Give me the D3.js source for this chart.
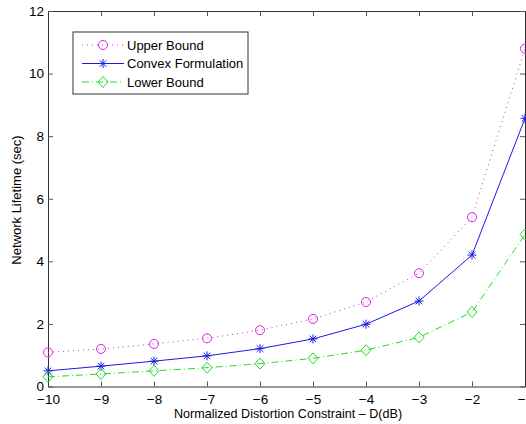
<!DOCTYPE html>
<html>
<head>
<meta charset="utf-8">
<script src="https://cdn.jsdelivr.net/npm/d3@7"></script>
<style>
  body { margin: 0; background: #fff; }
  text { font-family: "Liberation Sans", Arial, sans-serif; fill: #000; }
</style>
</head>
<body>
<div id="chart"></div>
<script>
var svgWidth = 526;
var svgHeight = 424;

var margin = { top: 11, right: 1, bottom: 37.5, left: 48 };
var width = svgWidth - margin.left - margin.right;
var height = svgHeight - margin.top - margin.bottom;

// data
var distortion = [-10, -9, -8, -7, -6, -5, -4, -3, -2, -1];
var upperBound = [1.09, 1.2, 1.36, 1.54, 1.8, 2.16, 2.7, 3.62, 5.41, 10.8];
var convexForm = [0.5, 0.65, 0.81, 0.98, 1.21, 1.52, 1.99, 2.73, 4.2, 8.57];
var lowerBound = [0.31, 0.4, 0.5, 0.6, 0.73, 0.9, 1.16, 1.57, 2.38, 4.86];
var xTicks = [-10, -9, -8, -7, -6, -5, -4, -3, -2, -1];
var yTicks = [0, 2, 4, 6, 8, 10, 12];
var seriesNames = ["Upper Bound", "Convex Formulation", "Lower Bound"];

var series = [
  { name: seriesNames[0], values: upperBound, color: "#e020e0", dash: "1,4", marker: "circle" },
  { name: seriesNames[1], values: convexForm, color: "#1a1ae6", dash: null, marker: "star" },
  { name: seriesNames[2], values: lowerBound, color: "#22dd22", dash: "7,3,1,3", marker: "diamond" }
];

var svg = d3.select("#chart")
  .append("svg")
  .attr("width", svgWidth)
  .attr("height", svgHeight);

var chartGroup = svg.append("g")
  .attr("transform", `translate(${margin.left}, ${margin.top})`);

var x = d3.scaleLinear().domain([-10, -1]).range([0, width]);
var y = d3.scaleLinear().domain([0, 12]).range([height, 0]);

// axes with inward ticks on all four sides
function fmt(d) { return d < 0 ? "\u2212" + Math.abs(d) : d; }

var bottomAxis = chartGroup.append("g")
  .attr("transform", `translate(0, ${height})`)
  .call(d3.axisBottom(x).tickValues(xTicks).tickSizeInner(-5).tickSizeOuter(0).tickPadding(8).tickFormat(fmt));
var topAxis = chartGroup.append("g")
  .call(d3.axisTop(x).tickValues(xTicks).tickSizeInner(-5).tickSizeOuter(0).tickFormat(""));
var leftAxis = chartGroup.append("g")
  .call(d3.axisLeft(y).tickValues(yTicks).tickSizeInner(-5).tickSizeOuter(0).tickPadding(4));
var rightAxis = chartGroup.append("g")
  .attr("transform", `translate(${width}, 0)`)
  .call(d3.axisRight(y).tickValues(yTicks).tickSizeInner(-5).tickSizeOuter(0).tickFormat(""));

[bottomAxis, topAxis, leftAxis, rightAxis].forEach(function(a) {
  a.select(".domain").attr("stroke", "#333").attr("stroke-width", 1);
  a.selectAll(".tick line").attr("stroke", "#555");
  a.selectAll("text").style("font-size", "13.5px").attr("fill", "#000")
    .style("font-family", "'Liberation Sans', Arial, sans-serif");
});

// series
var line = d3.line()
  .x(function(d, i) { return x(distortion[i]); })
  .y(function(d) { return y(d); });

function drawMarker(g, kind, color) {
  if (kind === "circle") {
    g.append("circle").attr("r", 4.5).attr("fill", "none").attr("stroke", color).attr("stroke-width", 1);
  } else if (kind === "diamond") {
    g.append("path").attr("d", "M0,-5.5L5,0L0,5.5L-5,0Z").attr("fill", "none").attr("stroke", color).attr("stroke-width", 1);
  } else {
    g.append("path").attr("d", "M0,-4.5V4.5M-4.5,0H4.5M-3.3,-3.3L3.3,3.3M-3.3,3.3L3.3,-3.3")
      .attr("fill", "none").attr("stroke", color).attr("stroke-width", 1);
  }
}

series.forEach(function(s) {
  chartGroup.append("path")
    .datum(s.values)
    .attr("d", line)
    .attr("fill", "none")
    .attr("stroke", s.color)
    .attr("stroke-width", 1)
    .attr("stroke-dasharray", s.dash);

  chartGroup.selectAll(null)
    .data(s.values)
    .enter()
    .append("g")
    .attr("transform", function(d, i) { return `translate(${x(distortion[i])}, ${y(d)})`; })
    .each(function() { drawMarker(d3.select(this), s.marker, s.color); });
});

// axis labels
svg.append("text")
  .attr("x", 288)
  .attr("y", 418)
  .attr("text-anchor", "middle")
  .style("font-size", "12.6px")
  .text("Normalized Distortion Constraint \u2013 D(dB)");

svg.append("text")
  .attr("transform", "rotate(-90)")
  .attr("x", -200)
  .attr("y", 21)
  .attr("text-anchor", "middle")
  .style("font-size", "13px")
  .text("Network Lifetime (sec)");

// legend
var legend = svg.append("g").attr("transform", "translate(73, 32)");
legend.append("rect")
  .attr("width", 175)
  .attr("height", 62)
  .attr("fill", "#fff")
  .attr("stroke", "#333")
  .attr("stroke-width", 1);

series.forEach(function(s, i) {
  var row = legend.append("g").attr("transform", `translate(0, ${13 + i * 18.5})`);
  row.append("line")
    .attr("x1", 9).attr("x2", 51)
    .attr("stroke", s.color)
    .attr("stroke-width", 1)
    .attr("stroke-dasharray", s.dash);
  drawMarker(row.append("g").attr("transform", "translate(30, 0)"), s.marker, s.color);
  row.append("text")
    .attr("x", 54)
    .attr("y", 4.5)
    .style("font-size", "13px")
    .text(s.name);
});
</script>
</body>
</html>
